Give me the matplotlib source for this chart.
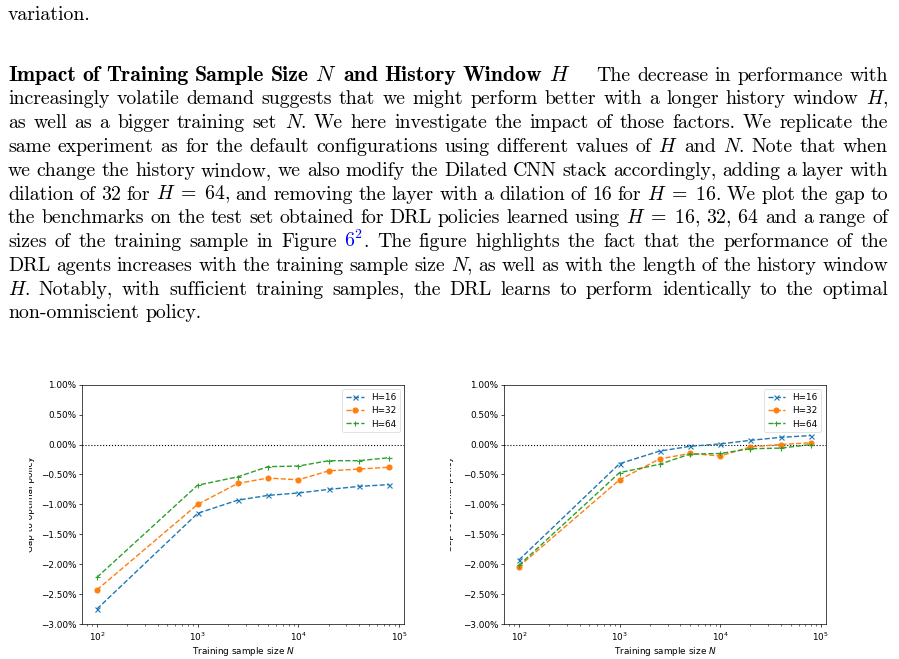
import numpy as np
import matplotlib
matplotlib.use('Agg')
import matplotlib.pyplot as plt
from matplotlib.ticker import FuncFormatter
from matplotlib.transforms import Bbox

# ---------------- data ----------------
sample_sizes = [100, 1000, 2500, 5000, 10000, 20000, 40000, 80000]
series_labels = ["H=16", "H=32", "H=64"]

left_h16 = [-2.75, -1.15, -0.93, -0.85, -0.81, -0.75, -0.70, -0.67]
left_h32 = [-2.43, -1.00, -0.65, -0.56, -0.59, -0.44, -0.41, -0.38]
left_h64 = [-2.22, -0.68, -0.54, -0.37, -0.36, -0.27, -0.27, -0.22]

right_h16 = [-1.93, -0.32, -0.11, -0.03, 0.01, 0.07, 0.12, 0.15]
right_h32 = [-2.04, -0.59, -0.24, -0.15, -0.19, -0.04, 0.00, 0.03]
right_h64 = [-2.02, -0.47, -0.33, -0.16, -0.15, -0.07, -0.06, 0.00]

y_ticks = [-3.0, -2.5, -2.0, -1.5, -1.0, -0.5, 0.0, 0.5, 1.0]
x_label = "Training sample size $N$"
y_label = "Gap to optimal policy"

body_top = "variation."
heading = "Impact of Training Sample Size $N$ and History Window $H$"
body_lines = [
    "The decrease in performance with",
    "increasingly volatile demand suggests that we might perform better with a longer history window $H$,",
    "as well as a bigger training set $N$. We here investigate the impact of those factors. We replicate the",
    "same experiment as for the default configurations using different values of $H$ and $N$. Note that when",
    "we change the history window, we also modify the Dilated CNN stack accordingly, adding a layer with",
    r"dilation of 32 for $H\;=\;64$, and removing the layer with a dilation of 16 for $H\;=\;16$. We plot the gap to",
    r"the benchmarks on the test set obtained for DRL policies learned using $H\;=\;16,\,32,\,64$ and a range of",
    "sizes of the training sample in Figure $6^2$. The figure highlights the fact that the performance of the",
    "DRL agents increases with the training sample size $N$, as well as with the length of the history window",
    "$H$. Notably, with sufficient training samples, the DRL learns to perform identically to the optimal",
    "non-omniscient policy.",
]
link_token = "$6^2$"

# ---------------- figure ----------------
W, H = 899, 659
fig = plt.figure(figsize=(W / 100, H / 100), dpi=100)
renderer = fig.canvas.get_renderer()

FS = 14.26
EM = FS * 100 / 72.0
X0, X1 = 8.0, 888.0


def tokenize(line):
    toks, cur, inmath = [], "", False
    for ch in line:
        if ch == "$":
            inmath = not inmath
            cur += ch
        elif ch == " " and not inmath:
            if cur:
                toks.append(cur)
            cur = ""
        else:
            cur += ch
    if cur:
        toks.append(cur)
    return toks


def word_pieces(tok, fam, fs=FS):
    if tok.startswith(link_token):
        rest = tok[len(link_token):]
        out = [(link_token, fam, (0, 0, 1), fs)]
        if rest:
            out.append((rest, fam, "black", fs))
        return out
    return [(tok, fam, "black", fs)]


def measure(s, fam, fs):
    t = fig.text(0, 0, s, fontsize=fs, family=fam, math_fontfamily="cm")
    w = t.get_window_extent(renderer).width
    t.remove()
    return w


def place_line(words, y, justify=True, extra_gaps=None):
    extra_gaps = extra_gaps or {}
    groups = []
    for w in words:
        arts, widths = [], []
        for (s, fam, col, fs) in w:
            t = fig.text(0, 0, s, fontsize=fs, family=fam, color=col,
                         math_fontfamily="cm", va="baseline", ha="left")
            arts.append(t)
            widths.append(t.get_window_extent(renderer).width)
        groups.append((arts, widths))
    total = sum(sum(ws) for _, ws in groups)
    ngaps = len(groups) - 1
    extra = sum(extra_gaps.values())
    if justify and ngaps > 0:
        gap = (X1 - X0 - total - extra) / ngaps
    else:
        gap = 0.333 * EM
    x = X0
    for i, (arts, widths) in enumerate(groups):
        for a, wd in zip(arts, widths):
            a.set_position((x / W, 1 - y / H))
            x += wd
        x += gap + extra_gaps.get(i, 0.0)


BASE0 = 80.7
LSTEP = 23.76

# top line
place_line([word_pieces(t, "cmr10") for t in tokenize(body_top)], 20.0, justify=False)

# heading line: bold face scaled to match the wider bold-extended look
head_toks = tokenize(heading)
nat = sum(measure(t, "cmb10", FS) for t in head_toks)
target = 570.0 - (len(head_toks) - 1) * 7.5
BFS = FS * min(max(target / nat, 1.0), 1.12)
head_words = [word_pieces(t, "cmb10", BFS) for t in head_toks]
rest_words = [word_pieces(t, "cmr10") for t in tokenize(body_lines[0])]
place_line(head_words + rest_words, BASE0, justify=True,
           extra_gaps={len(head_words) - 1: 1.0 * EM})

for i, line in enumerate(body_lines[1:], start=1):
    words = [word_pieces(t, "cmr10") for t in tokenize(line)]
    place_line(words, BASE0 + i * LSTEP, justify=(i < len(body_lines) - 1))

# ---------------- charts ----------------
TFS = 6.4
colors = ["#1f77b4", "#ff7f0e", "#2ca02c"]
markers = ["x", "o", "+"]


def pct(v, pos):
    return f"{v:.2f}%".replace("-", "\u2212")


def make_panel(rect, series, ylab_right, ylab_clip):
    ax = fig.add_axes(rect)
    for vals, lab, mk, col in zip(series, series_labels, markers, colors):
        ax.plot(sample_sizes, vals, linestyle="--", marker=mk, color=col,
                lw=1.0, ms=3.6, mew=0.8, label=lab)
    ax.axhline(0, color="black", ls=":", lw=0.8, zorder=1)
    ax.set_xscale("log")
    ax.set_ylim(-3, 1)
    ax.set_yticks(y_ticks)
    ax.yaxis.set_major_formatter(FuncFormatter(pct))
    ax.tick_params(which="major", length=2.2, width=0.5, pad=2.2, labelsize=TFS)
    ax.tick_params(which="minor", length=1.3, width=0.4)
    for sp in ax.spines.values():
        sp.set_linewidth(0.5)
    ax.set_xlabel(x_label, fontsize=TFS, labelpad=1.5)
    leg = ax.legend(loc="upper right", fontsize=TFS)
    leg.get_frame().set_linewidth(0.5)
    t = fig.text(ylab_right / W, rect[1] + rect[3] / 2, y_label, rotation=90,
                 ha="right", va="center", fontsize=TFS)
    t.set_clip_box(Bbox.from_extents(ylab_clip, 0, W, H))
    t.set_clip_on(True)
    return ax


ax_b = 1 - 624.0 / H
ax_h = (624.0 - 384.7) / H
make_panel([82.3 / W, ax_b, 321.7 / W, ax_h], [left_h16, left_h32, left_h64], 35.5, 29.3)
make_panel([504.3 / W, ax_b, 321.4 / W, ax_h], [right_h16, right_h32, right_h64], 453.5, 449.5)

fig.savefig("out.png", dpi=100)
